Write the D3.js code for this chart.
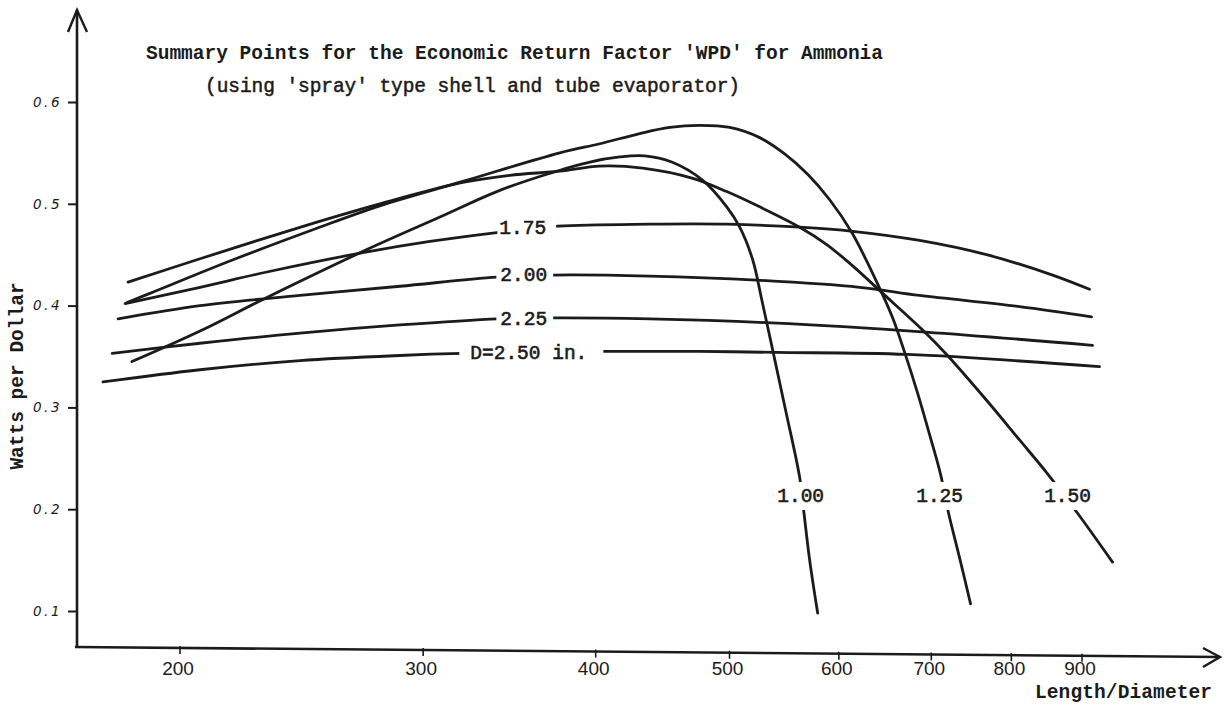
<!DOCTYPE html>
<html><head><meta charset="utf-8">
<script src="https://cdn.jsdelivr.net/npm/d3@7"></script>
<style>body{margin:0;background:#fff;overflow:hidden}</style>
</head><body><svg id="c" width="1225" height="708"></svg>
<script>
// ---- data ----
const xTicks = [200, 300, 400, 500, 600, 700, 800, 900];
const yTicks = [0.1, 0.2, 0.3, 0.4, 0.5, 0.6];
const yTickLabels = ["0.1", "0.2", "0.3", "0.4", "0.5", "0.6"];

const ld100  = [184.6,206.8,231.2,273.1,308.5,339.2,368.7,396.1,416.4,434.1,454.1,478.2,497.7,508.6,519.7,527.6,537.4,549.1,562.1,565.8,571.5,579.2];
const wpd100 = [0.345,0.375,0.408,0.455,0.487,0.512,0.529,0.541,0.546,0.547,0.541,0.523,0.497,0.477,0.445,0.406,0.356,0.297,0.231,0.199,0.150,0.098];

const ld125  = [183.1,190.2,218.5,251.3,279.1,320.5,376.8,402.8,430.5,452.6,475.8,500.2,525.8,548.2,569.6,590.9,613.0,642.3,656.3,669.6,684.2,698.1,711.0,720.5,733.9,747.4];
const wpd125 = [0.403,0.412,0.445,0.476,0.498,0.522,0.550,0.559,0.569,0.575,0.577,0.575,0.565,0.549,0.529,0.504,0.472,0.417,0.388,0.354,0.314,0.273,0.234,0.196,0.152,0.107];

const ld150  = [183.4,206.8,251.3,279.1,320.5,346.6,376.8,402.8,432.7,470.3,497.7,525.8,562.1,588.0,614.0,644.4,690.0,718.1,767.6,811.0,848.4,893.4,947.0];
const wpd150 = [0.423,0.446,0.482,0.500,0.521,0.528,0.532,0.537,0.535,0.525,0.512,0.497,0.477,0.460,0.439,0.413,0.376,0.352,0.307,0.268,0.236,0.196,0.148];

const ld175  = [182.5,206.8,231.2,271.3,303.4,340.4,375.5,437.7,497.7,562.1,614.0,686.5,767.6,856.9,911.4];
const wpd175 = [0.402,0.418,0.433,0.452,0.463,0.472,0.478,0.480,0.480,0.477,0.473,0.464,0.450,0.430,0.416];

const ld200  = [180.4,206.8,244.3,288.6,339.2,372.4,437.7,523.2,621.2,686.5,811.0,914.4];
const wpd200 = [0.387,0.400,0.410,0.419,0.428,0.430,0.429,0.425,0.418,0.410,0.399,0.389];

const ld225  = [178.6,206.8,244.3,288.6,339.8,372.4,437.7,536.5,693.4,916.0];
const wpd225 = [0.353,0.363,0.373,0.381,0.387,0.388,0.387,0.383,0.374,0.361];

const ld250  = [175.9,206.8,244.3,288.6,320.0,404.8,475.8,540.0,672.9,926.7];
const wpd250 = [0.325,0.337,0.346,0.351,0.353,0.355,0.355,0.354,0.352,0.340];

const seriesNames = ["1.00", "1.25", "1.50", "1.75", "2.00", "2.25", "D=2.50 in."];
const seriesLD  = [ld100, ld125, ld150, ld175, ld200, ld225, ld250];
const seriesWPD = [wpd100, wpd125, wpd150, wpd175, wpd200, wpd225, wpd250];

// label anchor (in data units) for each curve label
const labelLD  = [563.0, 709.8, 878.6, 354.2, 354.8, 354.8, 357.8];
const labelWPD = [0.214, 0.214, 0.214, 0.477, 0.431, 0.388, 0.354];

const title1 = "Summary Points for the Economic Return Factor 'WPD' for Ammonia";
const title2 = "(using 'spray' type shell and tube evaporator)";
const xTitle = "Length/Diameter";
const yTitle = "Watts per Dollar";

// ---- drawing ----
const svg = d3.select("#c");
const ink = "#1b1b1b";
const mono = "'Liberation Mono','DejaVu Sans Mono',monospace";

svg.append("rect").attr("width", 1225).attr("height", 708).attr("fill", "#ffffff");

const x = d3.scaleLog().domain([200, 900]).range([180, 1082]);
const y = d3.scaleLinear().domain([0.1, 0.6]).range([611, 102]);

// axis lines (slightly tilted like the hand-drawn original)
const axL = 75, axR = 1220, axYL = 647, axYR = 657;
const axisY = px => axYL + (px - axL) * (axYR - axYL) / (axR - axL);

svg.append("line").attr("x1", axL).attr("y1", axYL).attr("x2", axR).attr("y2", axYR)
  .attr("stroke", ink).attr("stroke-width", 2.6);
svg.append("path").attr("d", `M1203,648 L${axR},${axYR} L1203,667`)
  .attr("fill", "none").attr("stroke", ink).attr("stroke-width", 2.4);

svg.append("line").attr("x1", 77).attr("y1", axYL + 1).attr("x2", 77).attr("y2", 10)
  .attr("stroke", ink).attr("stroke-width", 2.6);
svg.append("path").attr("d", "M68,32 L77,10 L87,32")
  .attr("fill", "none").attr("stroke", ink).attr("stroke-width", 2.4);

// x ticks
const xg = svg.append("g");
xg.selectAll("line").data(xTicks).join("line")
  .attr("x1", d => x(d)).attr("x2", d => x(d))
  .attr("y1", d => axisY(x(d)) - 2).attr("y2", d => axisY(x(d)) + 6)
  .attr("stroke", ink).attr("stroke-width", 1.6);
xg.selectAll("text").data(xTicks).join("text")
  .attr("x", d => x(d) - 2).attr("y", 675)
  .attr("text-anchor", "middle")
  .attr("font-family", "'Liberation Sans',Arial,sans-serif")
  .attr("font-size", 19).attr("fill", ink)
  .text(d => d3.format("d")(d));

// y ticks
const yg = svg.append("g").attr("transform", "translate(77,0)");
const yAxis = d3.axisLeft(y).tickValues(yTicks).tickSize(9).tickPadding(6)
  .tickFormat((d, i) => yTickLabels[i]);
yg.call(yAxis);
yg.select(".domain").remove();
yg.selectAll(".tick line").attr("stroke", ink).attr("stroke-width", 2);
yg.selectAll(".tick text").attr("font-family", "'DejaVu Sans',sans-serif")
  .attr("font-style", "italic").attr("font-size", 13.5).attr("letter-spacing", 2.5)
  .attr("fill", ink);

// curves
const line = d3.line().x(d => x(d[0])).y(d => y(d[1])).curve(d3.curveCatmullRom.alpha(0.5));
const curves = svg.append("g");
seriesLD.forEach((lds, i) => {
  const pts = lds.map((v, j) => [v, seriesWPD[i][j]]);
  curves.append("path").attr("d", line(pts))
    .attr("fill", "none").attr("stroke", ink).attr("stroke-width", 2.8)
    .attr("stroke-linecap", "round").attr("stroke-linejoin", "round");
});

// curve labels with white knock-out behind them
const padL = [4, 4, 4, 2, 4, 4, 11];
const padR = [4, 4, 4, 10, 6, 6, 16];
const lg = svg.append("g");
seriesNames.forEach((name, i) => {
  const cx = x(labelLD[i]), cy = y(labelWPD[i]);
  const g = lg.append("g");
  const r = g.append("rect").attr("fill", "#ffffff");
  const t = g.append("text").attr("x", cx).attr("y", cy + 7)
    .attr("text-anchor", "middle").attr("font-family", mono)
    .attr("font-size", 19.5).attr("fill", ink)
    .attr("stroke", ink).attr("stroke-width", 0.6)
    .text(name);
  const b = t.node().getBBox();
  r.attr("x", b.x - padL[i]).attr("width", b.width + padL[i] + padR[i])
   .attr("y", b.y - 4).attr("height", b.height + 6);
});

// titles
svg.append("text").attr("x", 146).attr("y", 59).attr("font-family", mono)
  .attr("font-weight", "bold").attr("font-size", 19.5).attr("fill", ink)
  .attr("textLength", 737).text(title1);
svg.append("text").attr("x", 205).attr("y", 92).attr("font-family", mono)
  .attr("font-size", 19.5).attr("fill", ink).attr("stroke", ink).attr("stroke-width", 0.5)
  .attr("textLength", 535).text(title2);

svg.append("text").attr("x", 1035).attr("y", 698).attr("font-family", mono)
  .attr("font-weight", "bold").attr("font-size", 19.5).attr("fill", ink)
  .attr("textLength", 177).text(xTitle);

svg.append("text").attr("transform", "translate(23,376) rotate(-90)")
  .attr("text-anchor", "middle").attr("font-family", mono)
  .attr("font-weight", "bold").attr("font-size", 19.5).attr("fill", ink)
  .text(yTitle);
</script>
</body></html>
